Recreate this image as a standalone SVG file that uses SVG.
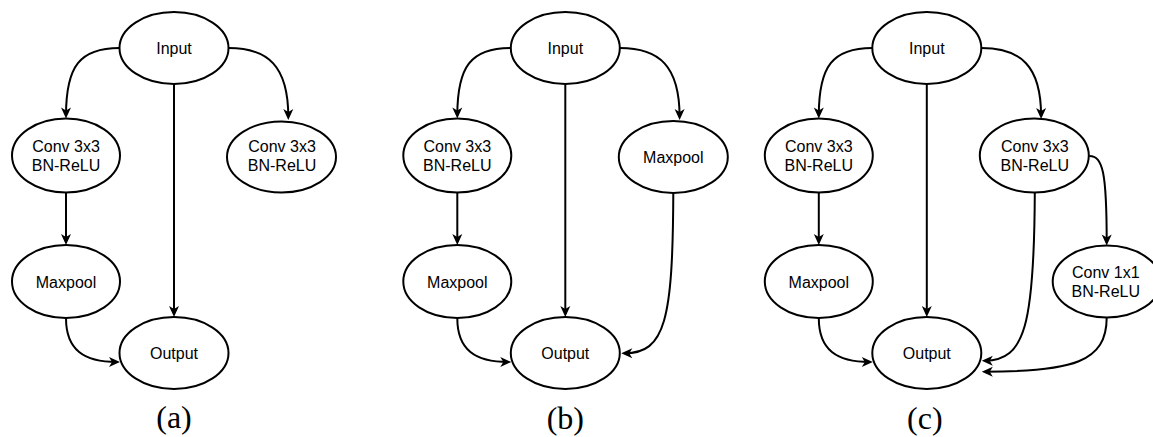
<svg xmlns="http://www.w3.org/2000/svg" width="1153" height="437" viewBox="0 0 1153 437">
  <style>
    .node ellipse { fill: #ffffff; stroke: #000000; stroke-width: 2; }
    .node text { font-family: "Liberation Sans", Arial, Helvetica, sans-serif; font-size: 16px; fill: #000000; text-anchor: middle; }
    .edge { fill: none; stroke: #000000; stroke-width: 2; marker-end: url(#arrow); }
    .caption { font-family: "Liberation Serif", "Times New Roman", serif; font-size: 32px; fill: #000000; text-anchor: middle; }
  </style>
  <defs>
    <!-- classic filled arrowhead; tip sits 3px beyond the path end -->
    <marker id="arrow" markerUnits="userSpaceOnUse" viewBox="-13 -6 14 12" markerWidth="14" markerHeight="12" refX="-3" refY="0" orient="auto">
      <path d="M0,0 L-11,-5 L-8,0 L-11,5 Z" fill="#000000"/>
    </marker>
  </defs>
  <rect width="1153" height="437" fill="#ffffff"/>

  <!-- ===== Block (a) ===== -->
  <g id="block-a">
    <g id="edges-a">
      <path class="edge" d="M119.5,48 C80,48 66,66 66,115.5"/>
      <path class="edge" d="M228.5,48 C268,48 288.3,66 288.3,117"/>
      <path class="edge" d="M174,84 L174,314"/>
      <path class="edge" d="M66,193 L66,242"/>
      <path class="edge" d="M66,318 C66,350 84,362 117,362"/>
    </g>
    <g id="a-input" class="node">
      <ellipse cx="174" cy="48" rx="54.5" ry="36"/>
      <text x="174" y="54">Input</text>
    </g>
    <g id="a-conv-left" class="node">
      <ellipse cx="66" cy="155.5" rx="54" ry="37"/>
      <text x="66" y="152">Conv 3x3</text>
      <text x="66" y="171">BN-ReLU</text>
    </g>
    <g id="a-conv-right" class="node">
      <ellipse cx="281.5" cy="157" rx="54.5" ry="35.5"/>
      <text x="282" y="152">Conv 3x3</text>
      <text x="282" y="171">BN-ReLU</text>
    </g>
    <g id="a-maxpool" class="node">
      <ellipse cx="66" cy="281.5" rx="54" ry="36.5"/>
      <text x="66" y="287.5">Maxpool</text>
    </g>
    <g id="a-output" class="node">
      <ellipse cx="174" cy="353" rx="54.5" ry="36"/>
      <text x="174" y="359">Output</text>
    </g>
    <text class="caption" x="174" y="428">(a)</text>
  </g>

  <!-- ===== Block (b) ===== -->
  <g id="block-b" transform="translate(391.3,0)">
    <g id="edges-b">
      <path class="edge" d="M119.5,48 C80,48 66,66 66,115.5"/>
      <path class="edge" d="M228.5,48 C268,48 288.3,66 288.3,117"/>
      <path class="edge" d="M174,84 L174,314"/>
      <path class="edge" d="M66,193 L66,242"/>
      <path class="edge" d="M66,318 C66,350 84,362 117,362"/>
      <path class="edge" d="M282,192.5 C281.5,320 274,353.3 233,353.3"/>
    </g>
    <g id="b-input" class="node">
      <ellipse cx="174" cy="48" rx="54.5" ry="36"/>
      <text x="174" y="54">Input</text>
    </g>
    <g id="b-conv" class="node">
      <ellipse cx="66" cy="155.5" rx="54" ry="37"/>
      <text x="66" y="152">Conv 3x3</text>
      <text x="66" y="171">BN-ReLU</text>
    </g>
    <g id="b-maxpool-right" class="node">
      <ellipse cx="282" cy="157" rx="54.5" ry="36"/>
      <text x="282" y="163">Maxpool</text>
    </g>
    <g id="b-maxpool-left" class="node">
      <ellipse cx="66" cy="281.5" rx="54" ry="36.5"/>
      <text x="66" y="287.5">Maxpool</text>
    </g>
    <g id="b-output" class="node">
      <ellipse cx="174" cy="353" rx="54.5" ry="36"/>
      <text x="174" y="359">Output</text>
    </g>
    <text class="caption" x="174" y="429">(b)</text>
  </g>

  <!-- ===== Block (c) ===== -->
  <g id="block-c" transform="translate(752.8,0)">
    <g id="edges-c">
      <path class="edge" d="M119.5,48 C80,48 66,66 66,115.5"/>
      <path class="edge" d="M228.5,48 C268,48 288.3,66 288.3,116"/>
      <path class="edge" d="M174,84 L174,314"/>
      <path class="edge" d="M66,193 L66,242"/>
      <path class="edge" d="M66,318 C66,350 84,362 117,362"/>
      <path class="edge" d="M282,192.5 C281.5,325 272,360.7 232,360.7"/>
      <path class="edge" d="M336.5,156 C350,156 353.9,172 353.9,242.5"/>
      <path class="edge" d="M353.9,317.5 C353.9,362 320,371.7 232,371.7"/>
    </g>
    <g id="c-input" class="node">
      <ellipse cx="174" cy="48" rx="54.5" ry="36"/>
      <text x="174" y="54">Input</text>
    </g>
    <g id="c-conv-left" class="node">
      <ellipse cx="66" cy="155.5" rx="54" ry="37"/>
      <text x="66" y="152">Conv 3x3</text>
      <text x="66" y="171">BN-ReLU</text>
    </g>
    <g id="c-conv-right" class="node">
      <ellipse cx="281.5" cy="155.5" rx="54.5" ry="37"/>
      <text x="282" y="152">Conv 3x3</text>
      <text x="282" y="171">BN-ReLU</text>
    </g>
    <g id="c-maxpool" class="node">
      <ellipse cx="66" cy="281.5" rx="54" ry="36.5"/>
      <text x="66" y="287.5">Maxpool</text>
    </g>
    <g id="c-conv1x1" class="node">
      <ellipse cx="353.9" cy="281.5" rx="54" ry="36"/>
      <text x="353" y="278">Conv 1x1</text>
      <text x="353" y="297">BN-ReLU</text>
    </g>
    <g id="c-output" class="node">
      <ellipse cx="174" cy="353" rx="54.5" ry="36"/>
      <text x="174" y="359">Output</text>
    </g>
    <text class="caption" x="172" y="429">(c)</text>
  </g>
</svg>
